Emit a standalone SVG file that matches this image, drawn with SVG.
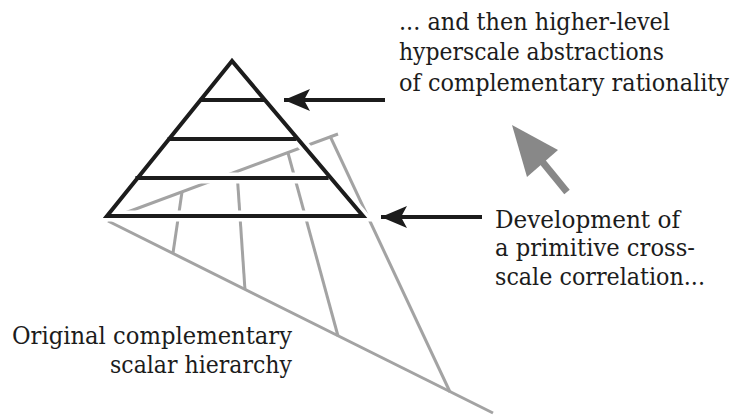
<svg xmlns="http://www.w3.org/2000/svg" width="738" height="418" viewBox="0 0 738 418">
  <style>
    .grey { stroke: #a3a3a3; stroke-width: 3; fill: none; stroke-linecap: butt; }
    .halo { stroke: #ffffff; stroke-width: 11; fill: none; stroke-linejoin: miter; }
    .ink { stroke: #1c1c1c; stroke-width: 4; fill: none; stroke-linejoin: miter; stroke-miterlimit: 10; }
    .label { font-family: "DejaVu Serif", "Liberation Serif", serif; font-size: 25px; fill: #1c1c1c; }
  </style>
  <defs>
    <marker id="blackHead" markerUnits="userSpaceOnUse" markerWidth="28" markerHeight="24" refX="26" refY="12" orient="auto">
      <path d="M0,1 L26,12 L0,23 L6,12 Z" fill="#1c1c1c"/>
    </marker>
  </defs>

  <!-- original scalar hierarchy (grey fan) -->
  <g id="scalar-hierarchy">
    <line class="grey" x1="125" y1="213" x2="338" y2="134"/>
    <line class="grey" x1="108" y1="221" x2="493" y2="413"/>
    <line class="grey" x1="330" y1="136" x2="450" y2="392"/>
    <line class="grey" x1="182" y1="192" x2="173" y2="253"/>
    <line class="grey" x1="237" y1="172" x2="245" y2="290"/>
    <line class="grey" x1="288" y1="153" x2="338" y2="336"/>
  </g>

  <!-- pyramid of higher-level abstractions; white casing breaks the grey lines behind it -->
  <g id="pyramid">
    <g class="halo">
      <polygon points="232,61 107,216 363,216"/>
      <line x1="199.8" y1="100" x2="264.2" y2="100"/>
      <line x1="167.6" y1="139" x2="296.4" y2="139"/>
      <line x1="135.4" y1="178" x2="328.6" y2="178"/>
    </g>
    <g class="ink">
      <polygon points="232,61 107,216 363,216"/>
      <line x1="199.8" y1="100" x2="264.2" y2="100"/>
      <line x1="167.6" y1="139" x2="296.4" y2="139"/>
      <line x1="135.4" y1="178" x2="328.6" y2="178"/>
    </g>
  </g>

  <!-- pointers -->
  <g id="connectors">
    <line class="ink" x1="385" y1="100" x2="284" y2="100" marker-end="url(#blackHead)"/>
    <line class="ink" x1="482" y1="217" x2="381" y2="217" marker-end="url(#blackHead)"/>
    <g id="rise-arrow" fill="#888888">
      <line x1="567" y1="192" x2="536" y2="154" stroke="#888888" stroke-width="7"/>
      <polygon points="512,125 527,177 558,150"/>
    </g>
  </g>

  <g id="label-abstractions" class="label">
    <text x="399" y="29.5" textLength="271" lengthAdjust="spacingAndGlyphs">... and then higher-level</text>
    <text x="399" y="60" textLength="265" lengthAdjust="spacingAndGlyphs">hyperscale abstractions</text>
    <text x="399" y="90.5" textLength="330" lengthAdjust="spacingAndGlyphs">of complementary rationality</text>
  </g>
  <g id="label-development" class="label">
    <text x="495" y="227.5" textLength="185" lengthAdjust="spacingAndGlyphs">Development of</text>
    <text x="495" y="256" textLength="200" lengthAdjust="spacingAndGlyphs">a primitive cross-</text>
    <text x="495" y="285" textLength="210" lengthAdjust="spacingAndGlyphs">scale correlation...</text>
  </g>
  <g id="label-original" class="label" text-anchor="end">
    <text x="292" y="343.5" textLength="280" lengthAdjust="spacingAndGlyphs">Original complementary</text>
    <text x="292" y="373" textLength="182" lengthAdjust="spacingAndGlyphs">scalar hierarchy</text>
  </g>
</svg>
